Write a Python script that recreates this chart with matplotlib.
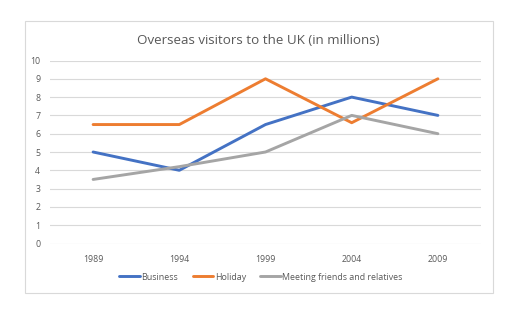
# 영국 해외 방문객 추이 (라인 차트)
import matplotlib
matplotlib.use('Agg')
import matplotlib.pyplot as plt
from matplotlib.patches import Rectangle

plt.rcParams['font.family'] = ['Open Sans', 'DejaVu Sans']

# --------------------------------------------------
# 데이터
# --------------------------------------------------
years = ['1989', '1994', '1999', '2004', '2009']
business = [5, 4, 6.5, 8, 7]
holiday = [6.5, 6.5, 9, 6.6, 9]
friends = [3.5, 4.2, 5, 7, 6]
series_names = ['Business', 'Holiday', 'Meeting friends and relatives']
colors = ['#4472C4', '#ED7D31', '#A5A5A5']

text_color = '#595959'
grid_color = '#D9D9D9'

# --------------------------------------------------
# 그림
# --------------------------------------------------
fig = plt.figure(figsize=(5.12, 3.21), dpi=100)
fig.patch.set_facecolor('white')

# 차트 영역 테두리
fig.patches.append(Rectangle((25 / 512, 1 - 293 / 321), 468 / 512, 272 / 321,
                             transform=fig.transFigure, fill=False,
                             edgecolor=grid_color, linewidth=0.8))

ax = fig.add_axes([50 / 512, 1 - 243.5 / 321, 431 / 512, 183 / 321])
x = range(len(years))
for vals, name, c in zip([business, holiday, friends], series_names, colors):
    ax.plot(x, vals, color=c, linewidth=2.1, label=name, solid_capstyle='round')

ax.set_xlim(-0.5, len(years) - 0.5)
ax.set_ylim(0, 10)
ax.set_yticks(range(0, 11))
ax.set_xticks(list(x))
ax.set_xticklabels(years)
ax.grid(axis='y', color=grid_color, linewidth=0.8)
ax.set_axisbelow(True)
for s in ax.spines.values():
    s.set_visible(False)
ax.tick_params(axis='both', length=0, labelsize=6.3, colors=text_color)
ax.tick_params(axis='x', pad=8)
ax.tick_params(axis='y', pad=7)

fig.text(0.505, 1 - 40 / 321, 'Overseas visitors to the UK (in millions)',
         ha='center', va='center', fontsize=9.6, color=text_color)

fig.legend(loc='center', bbox_to_anchor=(0.51, 1 - 277 / 321), ncol=3,
           frameon=False, fontsize=6.4, handlelength=2.3, handletextpad=0.2,
           columnspacing=1.6, labelcolor=text_color)

plt.savefig('out.png', dpi=100)
